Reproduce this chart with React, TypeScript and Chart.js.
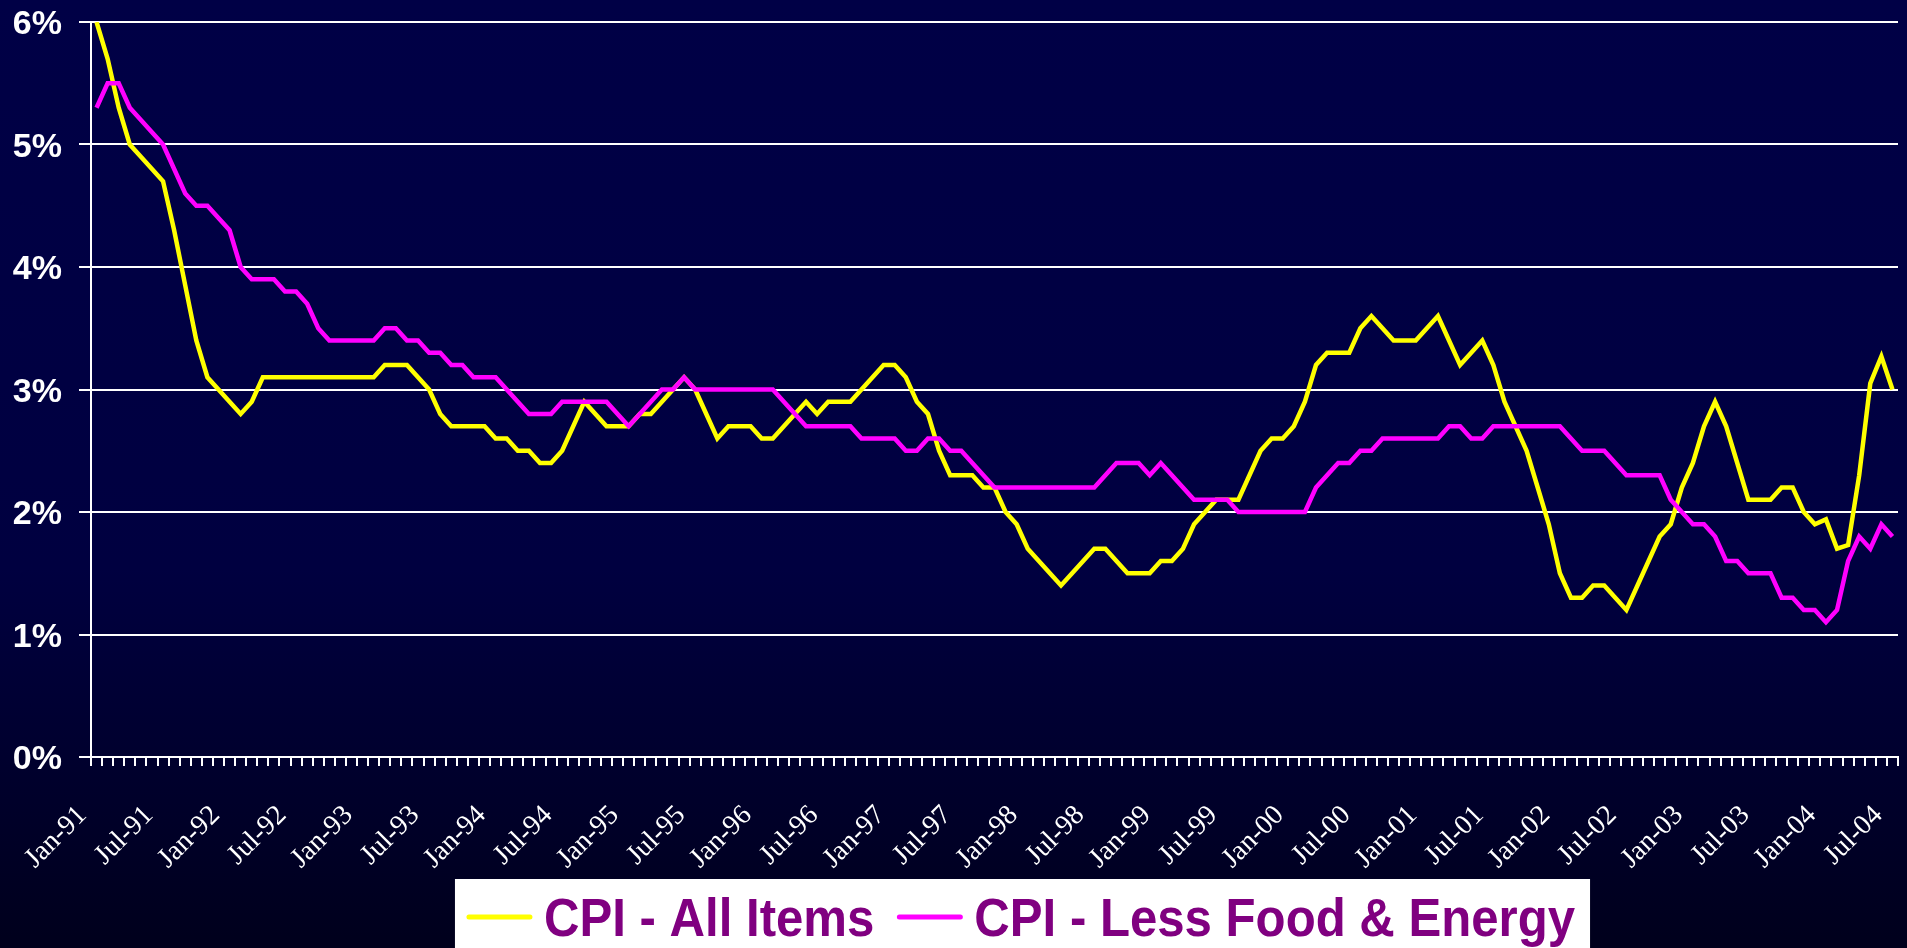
import { useEffect, useRef } from 'react';
import { Chart, registerables } from 'chart.js';

Chart.register(...registerables);

const MONTHS = ['Jan', 'Feb', 'Mar', 'Apr', 'May', 'Jun', 'Jul', 'Aug', 'Sep', 'Oct', 'Nov', 'Dec'];
const YEARS = ['91', '92', '93', '94', '95', '96', '97', '98', '99', '00', '01', '02', '03', '04'];
const MONTH_COUNT = 163; // Jan-91 .. Jul-04

const categories: string[] = [];
YEARS.forEach((y) => MONTHS.forEach((m) => categories.push(`${m}-${y}`)));
categories.length = MONTH_COUNT;

// CPI - All Items, year-over-year %, Jan-91 .. Jul-04
const cpiAllItems = [
  6.0, 5.7, 5.3, 5.0, 4.9, 4.8, 4.7, 4.3, 3.85, 3.4, 3.1, 3.0,
  2.9, 2.8, 2.9, 3.1, 3.1, 3.1, 3.1, 3.1, 3.1, 3.1, 3.1, 3.1,
  3.1, 3.1, 3.2, 3.2, 3.2, 3.1, 3.0, 2.8, 2.7, 2.7, 2.7, 2.7,
  2.6, 2.6, 2.5, 2.5, 2.4, 2.4, 2.5, 2.7, 2.9, 2.8, 2.7, 2.7,
  2.7, 2.8, 2.8, 2.9, 3.0, 3.1, 3.0, 2.8, 2.6, 2.7, 2.7, 2.7,
  2.6, 2.6, 2.7, 2.8, 2.9, 2.8, 2.9, 2.9, 2.9, 3.0, 3.1, 3.2,
  3.2, 3.1, 2.9, 2.8, 2.5, 2.3, 2.3, 2.3, 2.2, 2.2, 2.0, 1.9,
  1.7, 1.6, 1.5, 1.4, 1.5, 1.6, 1.7, 1.7, 1.6, 1.5, 1.5, 1.5,
  1.6, 1.6, 1.7, 1.9, 2.0, 2.1, 2.1, 2.1, 2.3, 2.5, 2.6, 2.6,
  2.7, 2.9, 3.2, 3.3, 3.3, 3.3, 3.5, 3.6, 3.5, 3.4, 3.4, 3.4,
  3.5, 3.6, 3.4, 3.2, 3.3, 3.4, 3.2, 2.9, 2.7, 2.5, 2.2, 1.9,
  1.5, 1.3, 1.3, 1.4, 1.4, 1.3, 1.2, 1.4, 1.6, 1.8, 1.9, 2.2,
  2.4, 2.7, 2.9, 2.7, 2.4, 2.1, 2.1, 2.1, 2.2, 2.2, 2.0, 1.9,
  1.94, 1.7, 1.73, 2.3, 3.05, 3.27, 3.0,
];

// CPI - Less Food & Energy, year-over-year %, Jan-91 .. Jul-04
const cpiLessFoodEnergy = [
  5.3, 5.5, 5.5, 5.3, 5.2, 5.1, 5.0, 4.8, 4.6, 4.5, 4.5, 4.4,
  4.3, 4.0, 3.9, 3.9, 3.9, 3.8, 3.8, 3.7, 3.5, 3.4, 3.4, 3.4,
  3.4, 3.4, 3.5, 3.5, 3.4, 3.4, 3.3, 3.3, 3.2, 3.2, 3.1, 3.1,
  3.1, 3.0, 2.9, 2.8, 2.8, 2.8, 2.9, 2.9, 2.9, 2.9, 2.9, 2.8,
  2.7, 2.8, 2.9, 3.0, 3.0, 3.1, 3.0, 3.0, 3.0, 3.0, 3.0, 3.0,
  3.0, 3.0, 2.9, 2.8, 2.7, 2.7, 2.7, 2.7, 2.7, 2.6, 2.6, 2.6,
  2.6, 2.5, 2.5, 2.6, 2.6, 2.5, 2.5, 2.4, 2.3, 2.2, 2.2, 2.2,
  2.2, 2.2, 2.2, 2.2, 2.2, 2.2, 2.2, 2.3, 2.4, 2.4, 2.4, 2.3,
  2.4, 2.3, 2.2, 2.1, 2.1, 2.1, 2.1, 2.0, 2.0, 2.0, 2.0, 2.0,
  2.0, 2.0, 2.2, 2.3, 2.4, 2.4, 2.5, 2.5, 2.6, 2.6, 2.6, 2.6,
  2.6, 2.6, 2.7, 2.7, 2.6, 2.6, 2.7, 2.7, 2.7, 2.7, 2.7, 2.7,
  2.7, 2.6, 2.5, 2.5, 2.5, 2.4, 2.3, 2.3, 2.3, 2.3, 2.1, 2.0,
  1.9, 1.9, 1.8, 1.6, 1.6, 1.5, 1.5, 1.5, 1.3, 1.3, 1.2, 1.2,
  1.1, 1.2, 1.6, 1.8, 1.7, 1.9, 1.8,
];

const seriesNames = ['CPI - All Items', 'CPI - Less Food & Energy'];
const seriesColors = ['#FFFF00', '#FF00FF'];
const yMin = 0;
const yMax = 6;
const yStep = 1;
const labelEvery = 6;

const whiteLegendPlugin = {
  id: 'whiteLegend',
  afterDraw(chart: any) {
    const ctx: CanvasRenderingContext2D = chart.ctx;
    ctx.save();
    ctx.font = 'bold 54px "Liberation Sans", Arial, sans-serif';
    const squeeze = 0.91;
    const lineLen = 61;
    const lineGap = 14;
    const itemGap = 25;
    const widths = seriesNames.map((n) => ctx.measureText(n).width * squeeze);
    const total = widths.reduce((a, w) => a + lineLen + lineGap + w, 0) + itemGap * (seriesNames.length - 1);
    const centerX = 1022;
    let x = centerX - total / 2;
    const boxTop = 879;
    ctx.fillStyle = '#FFFFFF';
    ctx.fillRect(x - 14, boxTop, total + 29, chart.height - boxTop + 2);
    const lineY = 917;
    const baseY = 936;
    seriesNames.forEach((name, i) => {
      ctx.strokeStyle = seriesColors[i];
      ctx.lineWidth = 5;
      ctx.lineCap = 'round';
      ctx.beginPath();
      ctx.moveTo(x, lineY);
      ctx.lineTo(x + lineLen, lineY);
      ctx.stroke();
      ctx.save();
      ctx.translate(x + lineLen + lineGap, baseY);
      ctx.scale(squeeze, 1);
      ctx.fillStyle = '#800080';
      ctx.textBaseline = 'alphabetic';
      ctx.textAlign = 'left';
      ctx.fillText(name, 0, 0);
      ctx.restore();
      x += lineLen + lineGap + widths[i] + itemGap;
    });
    ctx.restore();
  },
};

export default function App() {
  const canvasRef = useRef<HTMLCanvasElement | null>(null);

  useEffect(() => {
    document.body.style.margin = '0';
    const canvas = canvasRef.current;
    if (!canvas) return;
    const chart = new Chart(canvas, {
      type: 'line',
      data: {
        labels: categories,
        datasets: [
          {
            label: seriesNames[0],
            data: cpiAllItems,
            borderColor: seriesColors[0],
            backgroundColor: seriesColors[0],
            borderWidth: 4.5,
            pointRadius: 0,
            tension: 0,
            fill: false,
            order: 1,
          },
          {
            label: seriesNames[1],
            data: cpiLessFoodEnergy,
            borderColor: seriesColors[1],
            backgroundColor: seriesColors[1],
            borderWidth: 4.5,
            pointRadius: 0,
            tension: 0,
            fill: false,
            order: 0,
          },
        ],
      },
      options: {
        responsive: true,
        maintainAspectRatio: false,
        animation: false,
        layout: { padding: { top: 22, right: 9, left: 0, bottom: 61 } },
        plugins: {
          legend: { display: false },
          tooltip: { enabled: false },
        },
        scales: {
          x: {
            type: 'category',
            offset: true,
            grid: {
              offset: true,
              drawOnChartArea: false,
              drawTicks: true,
              tickLength: 9,
              color: '#FFFFFF',
              lineWidth: 2,
            },
            border: { display: true, color: '#FFFFFF', width: 2 },
            ticks: {
              autoSkip: false,
              maxRotation: 45,
              minRotation: 45,
              color: '#FFFFFF',
              padding: 33,
              labelOffset: -14,
              font: { family: '"Liberation Serif", "Times New Roman", serif', size: 28 },
              callback: (_v: any, i: number) => (i % labelEvery === 0 ? categories[i] : ''),
            },
            afterFit: (s: any) => {
              s.height = 130;
              s.paddingLeft = 0;
              s.paddingRight = 0;
            },
          },
          y: {
            min: yMin,
            max: yMax,
            grid: {
              color: '#FFFFFF',
              lineWidth: 2,
              tickLength: 12,
              drawTicks: true,
            },
            border: { display: true, color: '#FFFFFF', width: 2 },
            ticks: {
              stepSize: yStep,
              color: '#FFFFFF',
              padding: 17,
              labelOffset: 3,
              font: { family: '"Liberation Sans", Arial, sans-serif', size: 34, weight: 'bold' },
              callback: (v: any) => `${v}%`,
            },
            afterFit: (s: any) => {
              s.width = 91;
              s.paddingTop = 0;
              s.paddingBottom = 0;
            },
          },
        },
      },
      plugins: [whiteLegendPlugin],
    });
    return () => chart.destroy();
  }, []);

  return (
    <div
      style={{
        width: '1907px',
        height: '948px',
        background: 'linear-gradient(to bottom, #000046 0%, #000040 60%, #00001c 100%)',
        position: 'relative',
      }}
    >
      <canvas ref={canvasRef} />
    </div>
  );
}
